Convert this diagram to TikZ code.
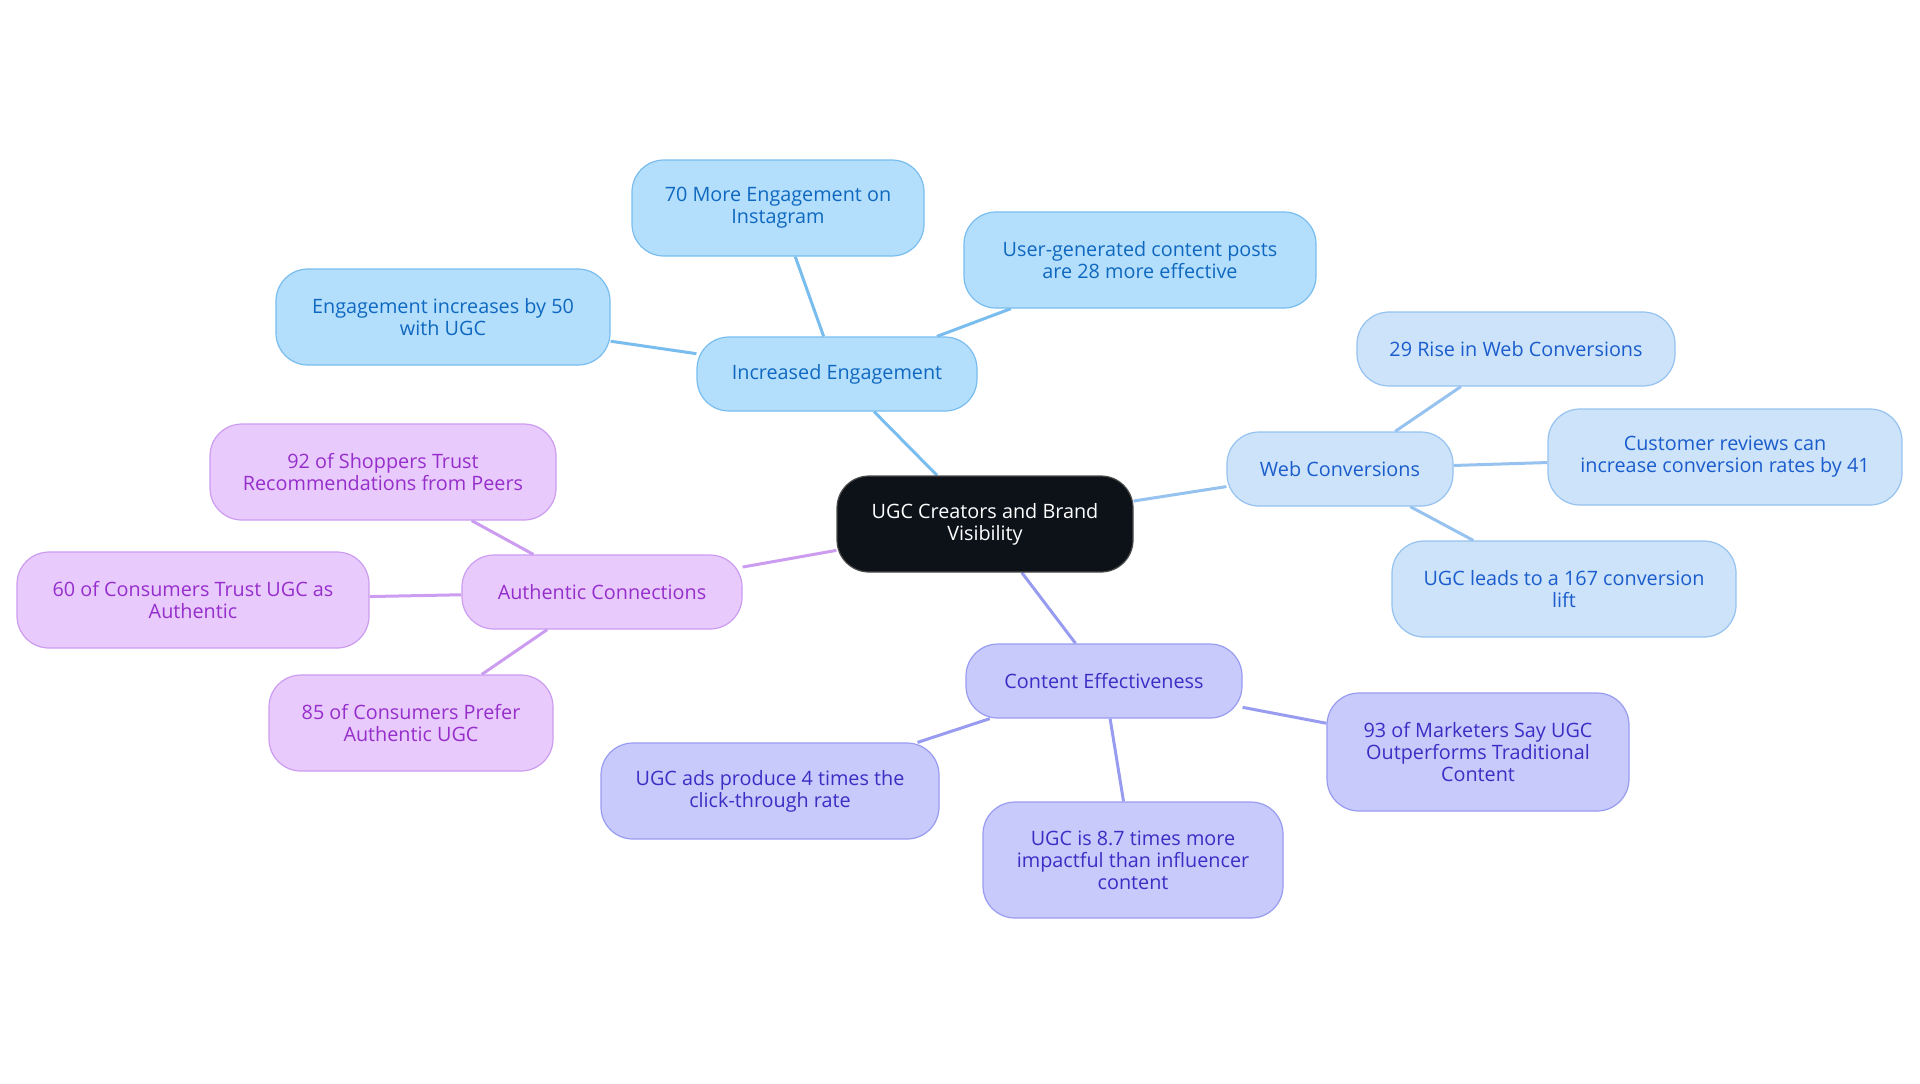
\documentclass[tikz,border=0pt]{standalone}
\usepackage{fontspec}
\setmainfont{Open Sans}
\usepackage{tikz}
\usetikzlibrary{backgrounds}

\definecolor{rootfill}{HTML}{0D1219}
\definecolor{engfill}{HTML}{B4DFFC}
\definecolor{engline}{HTML}{78BDEE}
\definecolor{engtext}{HTML}{0F68C0}
\definecolor{webfill}{HTML}{CCE3FA}
\definecolor{webline}{HTML}{96C2F0}
\definecolor{webtext}{HTML}{1B5DCC}
\definecolor{autfill}{HTML}{E8CBFC}
\definecolor{autline}{HTML}{CB9CF0}
\definecolor{auttext}{HTML}{962ECC}
\definecolor{confill}{HTML}{C9CAFC}
\definecolor{conline}{HTML}{989CF0}
\definecolor{context}{HTML}{3A2EC4}

\begin{document}
\begin{tikzpicture}[
  x=0.5pt, y=-0.5pt,
  box/.style={draw,rounded corners=16pt,align=center,font=\fontsize{9.9}{11}\selectfont,line width=0.6pt},
  root/.style={box,fill=rootfill,draw=gray!60!black,text=white,minimum width=148pt,minimum height=48pt},
  eng/.style={box,fill=engfill,draw=engline,text=engtext},
  web/.style={box,fill=webfill,draw=webline,text=webtext},
  aut/.style={box,fill=autfill,draw=autline,text=auttext},
  con/.style={box,fill=confill,draw=conline,text=context},
  link/.style={line width=1.5pt}
]
\useasboundingbox (0,0) rectangle (1920,1083);

\node[root] (ugc) at (985,524) {UGC Creators and Brand\\Visibility};

% engagement
\node[eng,minimum width=140pt,minimum height=37pt] (eng) at (837,374) {Increased Engagement};
\node[eng,minimum width=146pt,minimum height=48pt] (insta) at (778,208) {70 More Engagement on\\Instagram};
\node[eng,minimum width=176pt,minimum height=48pt] (posts) at (1140,260) {User-generated content posts\\are 28 more effective};
\node[eng,minimum width=167pt,minimum height=48pt] (fifty) at (443,317) {Engagement increases by 50\\with UGC};

% conversions
\node[web,minimum width=113pt,minimum height=37pt] (web) at (1340,469) {Web Conversions};
\node[web,minimum width=159pt,minimum height=37pt] (rise) at (1516,349) {29 Rise in Web Conversions};
\node[web,minimum width=177pt,minimum height=48pt] (reviews) at (1725,457) {Customer reviews can\\increase conversion rates by 41};
\node[web,minimum width=172pt,minimum height=48pt] (lift) at (1564,589) {UGC leads to a 167 conversion\\lift};

% authenticity
\node[aut,minimum width=140pt,minimum height=37pt] (aut) at (602,592) {Authentic Connections};
\node[aut,minimum width=173pt,minimum height=48pt] (peers) at (383,472) {92 of Shoppers Trust\\Recommendations from Peers};
\node[aut,minimum width=176pt,minimum height=48pt] (trust) at (193,600) {60 of Consumers Trust UGC as\\Authentic};
\node[aut,minimum width=142pt,minimum height=48pt] (prefer) at (411,723) {85 of Consumers Prefer\\Authentic UGC};

% effectiveness
\node[con,minimum width=138pt,minimum height=37pt] (con) at (1104,681) {Content Effectiveness};
\node[con,minimum width=169pt,minimum height=48pt] (ads) at (770,791) {UGC ads produce 4 times the\\click-through rate};
\node[con,minimum width=150pt,minimum height=58pt] (infl) at (1133,860) {UGC is 8.7 times more\\impactful than influencer\\content};
\node[con,minimum width=151pt,minimum height=59pt] (mkt) at (1478,752) {93 of Marketers Say UGC\\Outperforms Traditional\\Content};

\begin{scope}[on background layer]
\draw[link,engline] (ugc) -- (eng);
\draw[link,engline] (eng) -- (insta);
\draw[link,engline] (eng) -- (posts);
\draw[link,engline] (eng) -- (fifty);
\draw[link,webline] (ugc) -- (web);
\draw[link,webline] (web) -- (rise);
\draw[link,webline] (web) -- (reviews);
\draw[link,webline] (web) -- (lift);
\draw[link,autline] (ugc) -- (aut);
\draw[link,autline] (aut) -- (peers);
\draw[link,autline] (aut) -- (trust);
\draw[link,autline] (aut) -- (prefer);
\draw[link,conline] (ugc) -- (con);
\draw[link,conline] (con) -- (ads);
\draw[link,conline] (con) -- (infl);
\draw[link,conline] (con) -- (mkt);
\end{scope}
\end{tikzpicture}
\end{document}
